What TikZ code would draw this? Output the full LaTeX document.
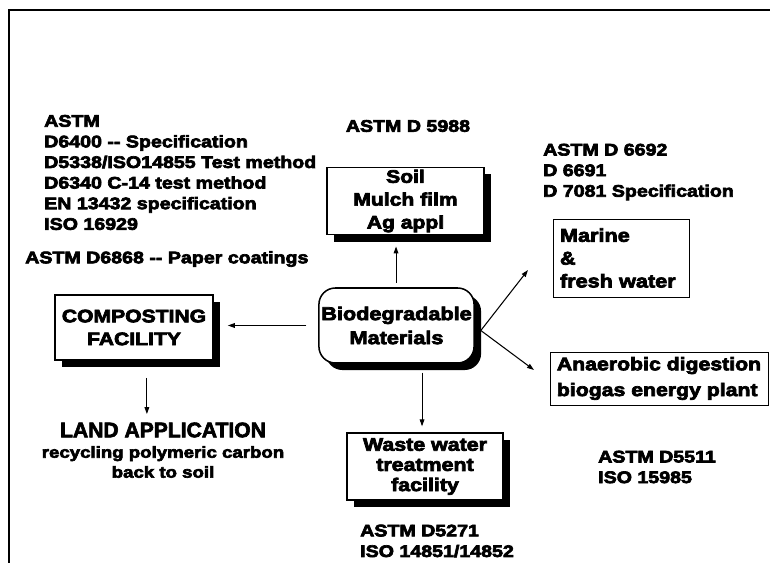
\documentclass[tikz,border=0pt]{standalone}
\usepackage{fontspec}
\setmainfont{Liberation Sans}
\newfontfamily\heavyfont{Liberation Sans Bold}[FakeStretch=1.17,FakeBold=4]
\newfontfamily\landfont{Liberation Sans Bold}[FakeStretch=1.0,FakeBold=3]
\usetikzlibrary{arrows.meta,shadows}

\begin{document}
\begin{tikzpicture}[x=0.03cm, y=-0.03cm,
    txt/.style={inner sep=0pt, align=left, font=\heavyfont\fontsize{14.3}{17.6}\selectfont},
    shadowbox/.style={draw, line width=1.3pt, fill=white, align=center, inner sep=2pt,
        font=\heavyfont\fontsize{15.4}{19.5}\selectfont,
        drop shadow={shadow xshift=6pt, shadow yshift=-6pt, fill=black, opacity=1}},
    plainbox/.style={draw, line width=0.8pt, inner sep=0pt, font=\heavyfont\fontsize{15.8}{19.5}\selectfont},
    arr/.style={-{Triangle[length=6pt,width=4pt]}, line width=0.9pt}]
    \useasboundingbox (0,0) rectangle (770,563);

    % Frame
    \draw[line width=1.5pt] (770,10) -| (9,563);

    % Centre - material
    \node[shadowbox, rounded corners=14pt, minimum width=4.59cm, minimum height=2.25cm,
        font=\heavyfont\fontsize{15.8}{20.5}\selectfont] (bio) at (396.5,325.5) {Biodegradable\\Materials};

    % Disposal routes
    \node[shadowbox, minimum width=4.71cm, minimum height=1.98cm] (soil) at (405.5,201) {Soil\\Mulch film\\Ag appl};
    \node[shadowbox, minimum width=4.74cm, minimum height=1.95cm] (comp) at (134,327.5) {COMPOSTING\\FACILITY};
    \node[shadowbox, minimum width=4.68cm, minimum height=2.01cm, font=\heavyfont\fontsize{15.6}{17.2}\selectfont] (waste) at (425,466.5) {Waste water\\treatment\\facility};
    \node[plainbox, text width=3.66cm, minimum height=2.34cm, inner xsep=0.21cm, align=left] (marine) at (621,258) {Marine\\\&\\fresh water};
    \node[plainbox, minimum width=6.54cm, minimum height=1.59cm, align=left, font=\heavyfont\fontsize{15.5}{22}\selectfont] (anaer) at (659,378.5) {Anaerobic digestion\\biogas energy plant};

    % Land application
    \node[inner sep=0pt, align=center, font=\landfont\fontsize{18}{18}\selectfont] (land) at (163,430) {LAND APPLICATION};
    \node[txt, align=center, font=\heavyfont\fontsize{13.6}{17}\selectfont] (recycle) at (163,462) {recycling polymeric carbon\\back to soil};

    % Standards
    \node[txt, anchor=west] (astmcomp) at (44,172.5) {ASTM\\D6400 -{}- Specification\\D5338/ISO14855 Test method\\D6340 C-14 test method\\EN 13432 specification\\ISO 16929};
    \node[txt, anchor=west] (astmpaper) at (25,259) {ASTM D6868 -{}- Paper coatings};
    \node[txt] (astmsoil) at (408,126) {ASTM D 5988};
    \node[txt, anchor=west] (astmmarine) at (543,172) {ASTM D 6692\\D 6691\\D 7081 Specification};
    \node[txt, anchor=west] (astmanaer) at (598,467) {ASTM D5511\\ISO 15985};
    \node[txt, anchor=west] (astmwaste) at (360,541) {ASTM D5271\\ISO 14851/14852};

    % Free ends
    \coordinate (marinetip) at (528,270);
    \coordinate (anaertip) at (534,370);

    % Connections
    \draw[arr, shorten <=4pt, shorten >=9.4pt] ([xshift=-0.4pt]bio.north) -- ([xshift=-0.4pt]bio.north |- soil.south);
    \draw[arr, shorten <=10pt, shorten >=12pt] (bio.west) -- (bio.west -| comp.east);
    \draw[arr, shorten <=14.5pt, shorten >=7pt] ([xshift=11pt]comp.south) -- ([xshift=11pt]comp.south |- land.north);
    \draw[arr, shorten <=7.5pt, shorten >=5pt] ([xshift=21.8pt]bio.south) -- ([xshift=21.8pt]bio.south |- waste.north);
    \draw[arr] ([shift={(6,5)}]bio.east) -- (marinetip);
    \draw[arr] ([shift={(6,5)}]bio.east) -- (anaertip);
\end{tikzpicture}
\end{document}
